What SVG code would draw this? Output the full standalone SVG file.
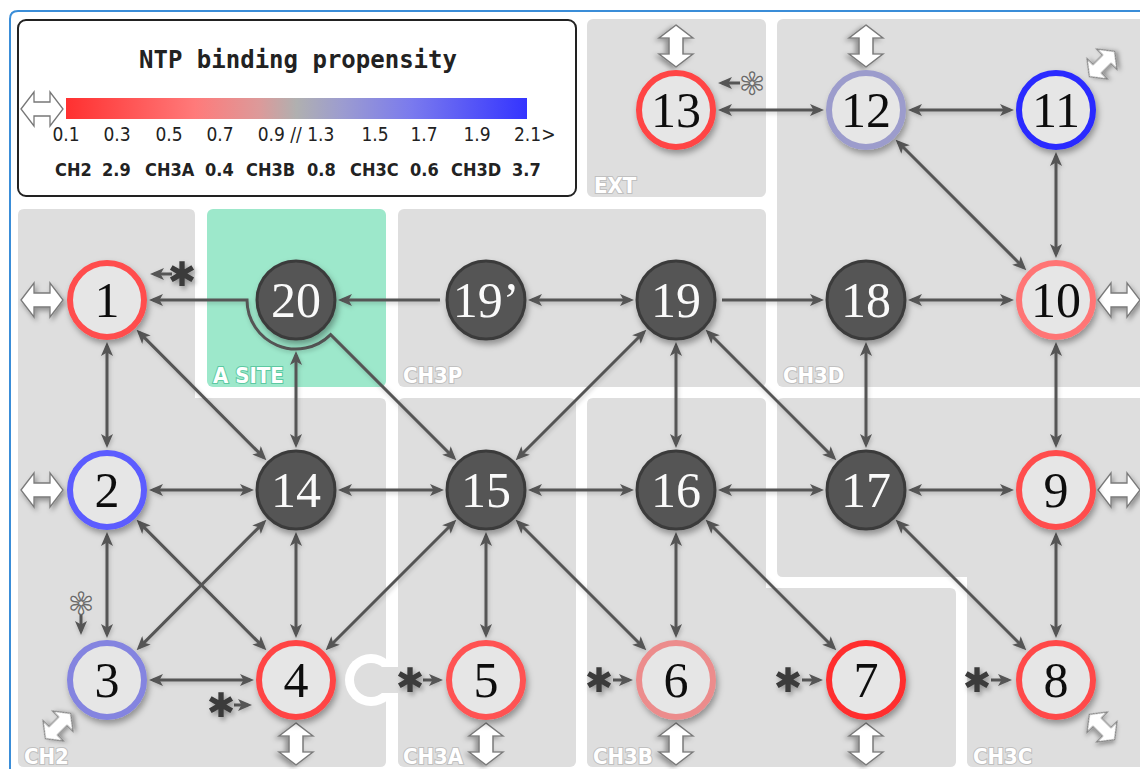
<svg xmlns="http://www.w3.org/2000/svg" xmlns:xlink="http://www.w3.org/1999/xlink" width="1140" height="769" viewBox="0 0 1140 769">
<style>
  .panel{fill:#dedede}
  .plabel{font-family:"DejaVu Sans Condensed","Liberation Sans Narrow","DejaVu Sans",sans-serif;font-stretch:condensed;font-weight:bold;font-size:22px;fill:#fff;stroke:#c0c0c0;stroke-width:2;paint-order:stroke}
  .ring{fill:#e6e6e6;stroke-width:6}
  .dark{fill:#545454;stroke:#3b3b3b;stroke-width:3}
  .node{filter:url(#ns)}
  .num{font-family:"Liberation Serif","DejaVu Serif",serif;font-size:50px;text-anchor:middle;fill:#111}
  .dnum{font-family:"Liberation Serif","DejaVu Serif",serif;font-size:50px;text-anchor:middle;fill:#fafafa}
  .con path{fill:none;stroke:#555;stroke-width:3;marker-end:url(#ah)}
  .con path.both{marker-start:url(#ah)}
  .wa{fill:#fff;stroke:#7a7a7a;stroke-width:1.3;filter:url(#ws)}
  .ast{font-family:"DejaVu Sans",sans-serif;font-size:34px;text-anchor:middle;fill:#3a3a3a;filter:url(#ws)}
  .hast{font-family:"DejaVu Sans",sans-serif;font-size:30px;text-anchor:middle;fill:#e8e8e8;stroke:#6a6a6a;stroke-width:1.3}
  .tick{font-family:"DejaVu Sans Condensed","DejaVu Sans",sans-serif;font-stretch:condensed;font-size:19px;fill:#222}
  .lrow{font-family:"DejaVu Sans Condensed","DejaVu Sans",sans-serif;font-stretch:condensed;font-weight:bold;font-size:18px;fill:#222}
</style>
<defs>
  <linearGradient id="grad" x1="0" y1="0" x2="1" y2="0">
    <stop offset="0" stop-color="#ff3030"/>
    <stop offset="0.28" stop-color="#ff7a7a"/>
    <stop offset="0.42" stop-color="#dc9a9a"/>
    <stop offset="0.5" stop-color="#b0b0b0"/>
    <stop offset="0.6" stop-color="#9c9cd0"/>
    <stop offset="0.75" stop-color="#7a7aee"/>
    <stop offset="1" stop-color="#3434ff"/>
  </linearGradient>
  <filter id="ns" x="-30%" y="-30%" width="170%" height="170%">
    <feDropShadow dx="2" dy="4" stdDeviation="3" flood-color="#000" flood-opacity="0.35"/>
  </filter>
  <filter id="ws" x="-40%" y="-40%" width="180%" height="180%">
    <feDropShadow dx="2" dy="3" stdDeviation="2.5" flood-color="#000" flood-opacity="0.35"/>
  </filter>
  <filter id="cs" x="-10%" y="-10%" width="120%" height="120%">
    <feDropShadow dx="1" dy="2" stdDeviation="2" flood-color="#000" flood-opacity="0.2"/>
  </filter>
  <marker id="ah" viewBox="0 0 14 12" refX="10" refY="6" markerWidth="14" markerHeight="12" markerUnits="userSpaceOnUse" orient="auto-start-reverse">
    <path d="M0,0 L14,6 L0,12 L3.5,6 Z" fill="#555"/>
  </marker>
  <path id="dbl" d="M-21,0 L-8,-17 L-8,-7 L8,-7 L8,-17 L21,0 L8,17 L8,7 L-8,7 L-8,17 Z"/>
</defs>

<rect width="1140" height="769" fill="#fff"/>
<path d="M10,780 V19 Q10,11 18,11 H1150" fill="none" stroke="#3a8dd8" stroke-width="2"/>

<!-- panels -->
<g id="panels">
  <rect class="panel" x="587" y="19" width="179" height="178" rx="6"/>
  <rect class="panel" x="777" y="19" width="380" height="368" rx="6"/>
  <path class="panel" d="M24,209 H189 Q195,209 195,215 V398 H380 Q386,398 386,404 V761 Q386,767 380,767 H24 Q18,767 18,761 V215 Q18,209 24,209 Z"/>
  <rect x="207" y="209" width="179" height="178" rx="6" fill="#9de8cb"/>
  <rect class="panel" x="398" y="209" width="368" height="178" rx="6"/>
  <rect class="panel" x="398" y="398" width="178" height="369" rx="6"/>
  <circle cx="371" cy="680" r="26" fill="#fff"/>
  <circle class="panel" cx="371" cy="680" r="17"/>
  <rect class="panel" x="371" y="667" width="29" height="26"/>
  <path class="panel" d="M593,398 H760 Q766,398 766,404 V588 H950 Q956,588 956,594 V761 Q956,767 950,767 H593 Q587,767 587,761 V404 Q587,398 593,398 Z"/>
  <path class="panel" d="M783,398 H1150 V767 H973 Q967,767 967,761 V577 H783 Q777,577 777,571 V404 Q777,398 783,398 Z"/>
  <text class="plabel" x="594" y="193">EXT</text>
  <text class="plabel" x="783" y="383">CH3D</text>
  <text class="plabel" x="213" y="383" style="stroke:#5cc9a2">A SITE</text>
  <text class="plabel" x="403" y="383">CH3P</text>
  <text class="plabel" x="24" y="764">CH2</text>
  <text class="plabel" x="403" y="764">CH3A</text>
  <text class="plabel" x="593" y="764">CH3B</text>
  <text class="plabel" x="973" y="764">CH3C</text>
</g>

<!-- legend -->
<g id="legend">
  <rect x="18" y="20" width="558" height="176" rx="8" fill="#fff" stroke="#222" stroke-width="2"/>
  <text x="298" y="68" text-anchor="middle" style="font-family:'DejaVu Sans Mono','Liberation Mono',monospace;font-weight:bold;font-size:24px;fill:#222">NTP binding propensity</text>
  <use href="#dbl" transform="translate(42,109)" fill="#fff" stroke="#777" stroke-width="1.3"/>
  <rect x="66" y="98" width="461" height="21" fill="url(#grad)"/>
  <text class="tick" x="66" y="141" text-anchor="middle">0.1</text>
  <text class="tick" x="117" y="141" text-anchor="middle">0.3</text>
  <text class="tick" x="169" y="141" text-anchor="middle">0.5</text>
  <text class="tick" x="220" y="141" text-anchor="middle">0.7</text>
  <text class="tick" x="296" y="141" text-anchor="middle">0.9 // 1.3</text>
  <text class="tick" x="375" y="141" text-anchor="middle">1.5</text>
  <text class="tick" x="424" y="141" text-anchor="middle">1.7</text>
  <text class="tick" x="477" y="141" text-anchor="middle">1.9</text>
  <text class="tick" x="514" y="141">2.1&gt;</text>
  <text class="lrow" x="55" y="176">CH2</text>
  <text class="lrow" x="102" y="176">2.9</text>
  <text class="lrow" x="145" y="176">CH3A</text>
  <text class="lrow" x="205" y="176">0.4</text>
  <text class="lrow" x="246" y="176">CH3B</text>
  <text class="lrow" x="307" y="176">0.8</text>
  <text class="lrow" x="350" y="176">CH3C</text>
  <text class="lrow" x="410" y="176">0.6</text>
  <text class="lrow" x="451" y="176">CH3D</text>
  <text class="lrow" x="512" y="176">3.7</text>
</g>

<!-- connectors -->
<g id="connectors" class="con" filter="url(#cs)">
  <path d="M440,300 L342,300"/>
  <path class="both" d="M532,300 L630,300"/>
  <path d="M722,300 L820,300"/>
  <path class="both" d="M912,300 L1010,300"/>
  <path class="both" d="M722,110 L820,110"/>
  <path class="both" d="M912,110 L1010,110"/>
  <path class="both" d="M898.5,142.5 L1023.5,267.5"/>
  <path class="both" d="M1056,156 L1056,254"/>
  <path class="both" d="M1056,346 L1056,444"/>
  <path class="both" d="M866,346 L866,444"/>
  <path class="both" d="M708.5,332.5 L833.5,457.5"/>
  <path class="both" d="M676,346 L676,444"/>
  <path class="both" d="M643.5,332.5 L518.5,457.5"/>
  <path class="both" d="M912,490 L1010,490"/>
  <path class="both" d="M722,490 L820,490"/>
  <path class="both" d="M532,490 L630,490"/>
  <path class="both" d="M342,490 L440,490"/>
  <path class="both" d="M153,490 L250,490"/>
  <path class="both" d="M107,346 L107,444"/>
  <path class="both" d="M139.4,332.6 L263.6,457.4"/>
  <path class="both" d="M296,444 L296,355"/>
  <path class="both" d="M453.5,457.5 L330.65,334.65 A49,49 0 0 1 247,300 L153,300"/>
  <path class="both" d="M107,536 L107,634"/>
  <path class="both" d="M139.4,522.6 L263.6,647.4"/>
  <path class="both" d="M139.4,647.4 L263.6,522.6"/>
  <path class="both" d="M296,536 L296,634"/>
  <path class="both" d="M153,680 L250,680"/>
  <path class="both" d="M453.5,522.5 L328.5,647.5"/>
  <path class="both" d="M486,536 L486,634"/>
  <path class="both" d="M518.5,522.5 L643.5,647.5"/>
  <path class="both" d="M676,536 L676,634"/>
  <path class="both" d="M708.5,522.5 L833.5,647.5"/>
  <path class="both" d="M898.5,522.5 L1023.5,647.5"/>
  <path class="both" d="M1056,536 L1056,634"/>
  <!-- asterisk inputs -->
  <path d="M172,274 L154,274"/>
  <path d="M234,705 L248,705"/>
  <path d="M423,680 L439,680"/>
  <path d="M613,680 L629,680"/>
  <path d="M802,680 L819,680"/>
  <path d="M991,680 L1008,680"/>
  <path d="M740,83 L722,83"/>
  <path d="M81,614 L81,631"/>
</g>

<!-- asterisks -->
<g id="asterisks">
  <text class="ast" x="182" y="286">✱</text>
  <text class="ast" x="221" y="717">✱</text>
  <text class="ast" x="410" y="692">✱</text>
  <text class="ast" x="599" y="692">✱</text>
  <text class="ast" x="788" y="692">✱</text>
  <text class="ast" x="977" y="692">✱</text>
  <text class="hast" x="752" y="94">✻</text>
  <text class="hast" x="81" y="614">✻</text>
</g>

<!-- white exchange arrows -->
<g id="exchange">
  <use href="#dbl" class="wa" transform="translate(42,300)"/>
  <use href="#dbl" class="wa" transform="translate(42,490)"/>
  <use href="#dbl" class="wa" transform="translate(1119,300)"/>
  <use href="#dbl" class="wa" transform="translate(1119,490)"/>
  <use href="#dbl" class="wa" transform="translate(676,46) rotate(90)"/>
  <use href="#dbl" class="wa" transform="translate(866,46) rotate(90)"/>
  <use href="#dbl" class="wa" transform="translate(296,744) rotate(90)"/>
  <use href="#dbl" class="wa" transform="translate(486,744) rotate(90)"/>
  <use href="#dbl" class="wa" transform="translate(676,744) rotate(90)"/>
  <use href="#dbl" class="wa" transform="translate(866,744) rotate(90)"/>
  <use href="#dbl" class="wa" transform="translate(1102,64) rotate(-45) scale(0.85)"/>
  <use href="#dbl" class="wa" transform="translate(58,726) rotate(-45) scale(0.85)"/>
  <use href="#dbl" class="wa" transform="translate(1102,727) rotate(45) scale(0.85)"/>
</g>

<!-- nodes -->
<g id="n1" class="node"><circle class="ring" cx="107" cy="300" r="37" stroke="#ff4d4d"/><text class="num" x="107" y="317">1</text></g>
<g id="n2" class="node"><circle class="ring" cx="107" cy="490" r="37" stroke="#5b5bff"/><text class="num" x="107" y="507">2</text></g>
<g id="n3" class="node"><circle class="ring" cx="107" cy="680" r="37" stroke="#8484e0"/><text class="num" x="107" y="697">3</text></g>
<g id="n4" class="node"><circle class="ring" cx="296" cy="680" r="37" stroke="#ff4545"/><text class="num" x="296" y="697">4</text></g>
<g id="n5" class="node"><circle class="ring" cx="486" cy="680" r="37" stroke="#ff5252"/><text class="num" x="486" y="697">5</text></g>
<g id="n6" class="node"><circle class="ring" cx="676" cy="680" r="37" stroke="#ec8c8c"/><text class="num" x="676" y="697">6</text></g>
<g id="n7" class="node"><circle class="ring" cx="866" cy="680" r="37" stroke="#ff2e2e"/><text class="num" x="866" y="697">7</text></g>
<g id="n8" class="node"><circle class="ring" cx="1056" cy="680" r="37" stroke="#ff4a4a"/><text class="num" x="1056" y="697">8</text></g>
<g id="n9" class="node"><circle class="ring" cx="1056" cy="490" r="37" stroke="#ff4d4d"/><text class="num" x="1056" y="507">9</text></g>
<g id="n10" class="node"><circle class="ring" cx="1056" cy="300" r="37" stroke="#ff7575"/><text class="num" x="1056" y="317">10</text></g>
<g id="n11" class="node"><circle class="ring" cx="1056" cy="110" r="37" stroke="#2a2aff"/><text class="num" x="1056" y="127">11</text></g>
<g id="n12" class="node"><circle class="ring" cx="866" cy="110" r="37" stroke="#9c9ccc"/><text class="num" x="866" y="127">12</text></g>
<g id="n13" class="node"><circle class="ring" cx="676" cy="110" r="37" stroke="#ff4444"/><text class="num" x="676" y="127">13</text></g>
<g id="n14" class="node"><circle class="dark" cx="296" cy="490" r="39"/><text class="dnum" x="296" y="507">14</text></g>
<g id="n15" class="node"><circle class="dark" cx="486" cy="490" r="39"/><text class="dnum" x="486" y="507">15</text></g>
<g id="n16" class="node"><circle class="dark" cx="676" cy="490" r="39"/><text class="dnum" x="676" y="507">16</text></g>
<g id="n17" class="node"><circle class="dark" cx="866" cy="490" r="39"/><text class="dnum" x="866" y="507">17</text></g>
<g id="n18" class="node"><circle class="dark" cx="866" cy="300" r="39"/><text class="dnum" x="866" y="317">18</text></g>
<g id="n19" class="node"><circle class="dark" cx="676" cy="300" r="39"/><text class="dnum" x="676" y="317">19</text></g>
<g id="n19p" class="node"><circle class="dark" cx="486" cy="300" r="39"/><text class="dnum" x="486" y="317">19’</text></g>
<g id="n20" class="node"><circle class="dark" cx="296" cy="300" r="39"/><text class="dnum" x="296" y="317">20</text></g>
</svg>
